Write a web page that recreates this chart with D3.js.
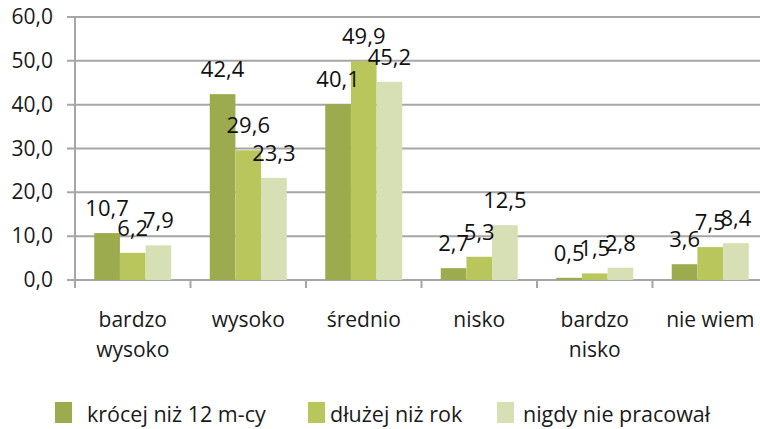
<!DOCTYPE html>
<html>
<head>
<meta charset="utf-8">
<script src="https://cdn.jsdelivr.net/npm/d3@7"></script>
<style>
  body { margin: 0; background: #fff; }
  svg { display: block; font-family: "Open Sans", sans-serif; }
</style>
</head>
<body>
<svg id="chart"></svg>
<script>
const width = 760, height = 429;

const categories = [["bardzo", "wysoko"], ["wysoko"], ["średnio"], ["nisko"], ["bardzo", "nisko"], ["nie wiem"]];
const seriesNames = ["krócej niż 12 m-cy", "dłużej niż rok", "nigdy nie pracował"];
const shortTerm = [10.7, 42.4, 40.1, 2.7, 0.5, 3.6];
const longTerm  = [6.2, 29.6, 49.9, 5.3, 1.5, 7.5];
const never     = [7.9, 23.3, 45.2, 12.5, 2.8, 8.4];
const yTicks = [0, 10, 20, 30, 40, 50, 60];
const colors = ["#9bab4e", "#b8c65b", "#d7dfb4"];

const series = [shortTerm, longTerm, never];
const fmt = v => v.toFixed(1).replace(".", ",");

const svg = d3.select("#chart")
  .attr("width", width)
  .attr("height", height);

// plot spans slightly past the right edge, as in the original crop
const x = d3.scaleBand()
  .domain(d3.range(categories.length))
  .range([75, 768]);

const xs = d3.scaleBand()
  .domain(d3.range(series.length))
  .range([0, x.bandwidth()])
  .paddingInner(0)
  .paddingOuter(0.75);

const y = d3.scaleLinear()
  .domain([0, 60])
  .range([280, 17]);

// gridlines
svg.append("g")
  .selectAll("line")
  .data(yTicks)
  .join("line")
  .attr("x1", 67).attr("x2", width)
  .attr("y1", d => y(d)).attr("y2", d => y(d))
  .attr("stroke", "#a6a6a6")
  .attr("stroke-width", 2);

// y axis line
svg.append("line")
  .attr("x1", 75).attr("x2", 75)
  .attr("y1", y(60)).attr("y2", 288)
  .attr("stroke", "#a6a6a6").attr("stroke-width", 2);

// x category ticks
svg.append("g")
  .selectAll("line")
  .data(d3.range(1, categories.length))
  .join("line")
  .attr("x1", d => x(d)).attr("x2", d => x(d))
  .attr("y1", 280).attr("y2", 288)
  .attr("stroke", "#a6a6a6").attr("stroke-width", 2);

// y tick labels
svg.append("g")
  .selectAll("text")
  .data(yTicks)
  .join("text")
  .attr("x", 53)
  .attr("y", d => y(d) + 7)
  .attr("text-anchor", "end")
  .attr("font-size", 21)
  .attr("fill", "#1a1a1a")
  .text(fmt);

// bars
const groups = svg.append("g")
  .selectAll("g")
  .data(series)
  .join("g")
  .attr("fill", (d, i) => colors[i]);

groups.each(function(vals, si) {
  d3.select(this).selectAll("rect")
    .data(vals)
    .join("rect")
    .attr("x", (d, ci) => x(ci) + xs(si))
    .attr("y", d => y(d))
    .attr("width", xs.bandwidth())
    .attr("height", d => y(0) - y(d));
});

// value labels
series.forEach((vals, si) => {
  svg.append("g")
    .selectAll("text")
    .data(vals)
    .join("text")
    .attr("x", (d, ci) => x(ci) + xs(si) + xs.bandwidth() / 2)
    .attr("y", d => y(d) - 17)
    .attr("text-anchor", "middle")
    .attr("font-size", 22)
    .attr("fill", "#111")
    .text(fmt);
});

// category labels
svg.append("g")
  .selectAll("text")
  .data(categories)
  .join("text")
  .attr("x", (d, i) => x(i) + x.bandwidth() / 2)
  .attr("y", 327)
  .attr("text-anchor", "middle")
  .attr("font-size", 21)
  .attr("fill", "#1a1a1a")
  .each(function(lines) {
    d3.select(this).selectAll("tspan")
      .data(lines)
      .join("tspan")
      .attr("x", d3.select(this).attr("x"))
      .attr("dy", (d, i) => i ? 30 : 0)
      .text(d => d);
  });

// legend
const legendX = [55, 308, 497];
const legendTextX = [87, 330, 523];
const legend = svg.append("g")
  .selectAll("g")
  .data(seriesNames)
  .join("g");

legend.append("rect")
  .attr("x", (d, i) => legendX[i])
  .attr("y", 402)
  .attr("width", 17).attr("height", 21)
  .attr("fill", (d, i) => colors[i]);

legend.append("text")
  .attr("x", (d, i) => legendTextX[i])
  .attr("y", 422)
  .attr("font-size", 21.5)
  .attr("fill", "#1a1a1a")
  .text(d => d);
</script>
</body>
</html>
